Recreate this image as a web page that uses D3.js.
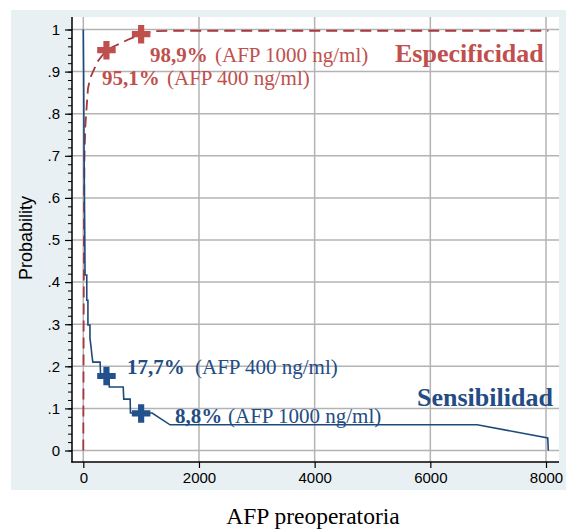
<!DOCTYPE html>
<html>
<head>
<meta charset="utf-8">
<script src="https://cdn.jsdelivr.net/npm/d3@7"></script>
<style>
  html, body { margin: 0; padding: 0; background: #ffffff; }
  svg { display: block; }
</style>
</head>
<body>
<svg id="chart" width="566" height="529"></svg>
<script>
// Tick values and labels
const xTicks = [0, 2000, 4000, 6000, 8000];
const yTicks = [0, 0.1, 0.2, 0.3, 0.4, 0.5, 0.6, 0.7, 0.8, 0.9, 1];
const yTickLabels = ["0", ".1", ".2", ".3", ".4", ".5", ".6", ".7", ".8", ".9", "1"];
const yMinorTicks = d3.range(0, 51).map(i => i / 50);

// Sensitivity curve (AFP cutoff, probability)
const sensAFP  = [0, 6, 10, 14, 20, 26, 30, 60, 60, 80, 80, 115, 115, 135, 150, 165, 290, 300, 445, 450, 690, 700, 810, 815, 1190, 1500, 6810, 8030, 8040];
const sensProb = [1, 0.9, 0.8, 0.7, 0.6, 0.5, 0.417, 0.417, 0.357, 0.357, 0.298, 0.298, 0.267, 0.245, 0.225, 0.21, 0.21, 0.177, 0.177, 0.151, 0.151, 0.122, 0.122, 0.089, 0.089, 0.061, 0.061, 0.030, 0];

// Specificity curve (AFP cutoff, probability)
const specAFP  = [0, 6, 12, 20, 35, 50, 81, 120, 168, 254, 400, 560, 760, 1000, 1200, 1500, 8040];
const specProb = [0, 0.3, 0.55, 0.7, 0.77, 0.80, 0.86, 0.885, 0.90, 0.925, 0.951, 0.962, 0.975, 0.989, 0.996, 0.997, 0.997];

// Highlighted cutoffs
const cutoffAFP = [400, 1000];
const sensAtCutoff = [0.177, 0.088];
const specAtCutoff = [0.951, 0.989];

const svg = d3.select("#chart");
const SERIF = "'Liberation Serif', 'Times New Roman', serif";
const SANS = "'Liberation Sans', Arial, Helvetica, sans-serif";
const RED_TEXT = "#c0504d";
const RED_LINE = "#a8373f";
const BLUE_TEXT = "#234c83";
const BLUE_LINE = "#1d4a7b";
const GRID = "#b3b3b3";

// Graph region and plot region
svg.append("rect").attr("x", 11).attr("y", 10).attr("width", 555).attr("height", 480).attr("fill", "#e9f0f3");
svg.append("rect").attr("x", 72).attr("y", 17).attr("width", 487).attr("height", 445).attr("fill", "#ffffff");

const x = d3.scaleLinear().domain([0, 8000]).range([83.3, 546]);
const y = d3.scaleLinear().domain([0, 1]).range([450.5, 29.5]);

// Grid
svg.append("g").selectAll("line").data(yTicks).join("line")
  .attr("x1", 72).attr("x2", 559)
  .attr("y1", d => y(d)).attr("y2", d => y(d))
  .attr("stroke", GRID).attr("stroke-width", 1.5);
svg.append("g").selectAll("line").data(xTicks).join("line")
  .attr("y1", 17).attr("y2", 462)
  .attr("x1", d => x(d)).attr("x2", d => x(d))
  .attr("stroke", GRID).attr("stroke-width", 1.5);

// Y axis
const yAxisMinor = d3.axisLeft(y).tickValues(yMinorTicks).tickSize(4).tickFormat("");
const yAxisMajor = d3.axisLeft(y).tickValues(yTicks).tickSize(7).tickPadding(5)
  .tickFormat((d, i) => yTickLabels[i]);
const gyMinor = svg.append("g").attr("transform", "translate(72,0)").call(yAxisMinor);
gyMinor.select(".domain").remove();
gyMinor.selectAll("line").attr("stroke", "#000").attr("stroke-width", 1);
const gy = svg.append("g").attr("transform", "translate(72,0)").call(yAxisMajor);
gy.select(".domain").remove();
gy.selectAll("line").attr("stroke", "#000").attr("stroke-width", 1.2);
gy.selectAll("text").attr("font-family", SANS).attr("font-size", 15).attr("fill", "#000");
svg.append("line").attr("x1", 72).attr("x2", 72).attr("y1", 17).attr("y2", 462.5)
  .attr("stroke", "#000").attr("stroke-width", 1.5);

// X axis
const xAxis = d3.axisBottom(x).tickValues(xTicks).tickSize(6).tickPadding(4).tickFormat(d3.format("d"));
const gx = svg.append("g").attr("transform", "translate(0,462)").call(xAxis);
gx.select(".domain").remove();
gx.selectAll("line").attr("stroke", "#000").attr("stroke-width", 1.2);
gx.selectAll("text").attr("font-family", SANS).attr("font-size", 15).attr("fill", "#000");
svg.append("line").attr("x1", 71.25).attr("x2", 559).attr("y1", 462).attr("y2", 462)
  .attr("stroke", "#000").attr("stroke-width", 1.5);

// Axis titles
svg.append("text").attr("transform", "translate(32,238) rotate(-90)")
  .attr("text-anchor", "middle").attr("font-family", SANS).attr("font-size", 18)
  .text("Probability");
svg.append("text").attr("x", 313).attr("y", 524).attr("text-anchor", "middle")
  .attr("font-family", SERIF).attr("font-size", 23.5).text("AFP preoperatoria");

// Curves
const line = d3.line().x(d => x(d[0])).y(d => y(d[1]));
svg.append("path").datum(specAFP.map((v, i) => [v, specProb[i]]))
  .attr("d", line).attr("fill", "none").attr("stroke", RED_LINE)
  .attr("stroke-width", 1.8).attr("stroke-dasharray", "11,6");
svg.append("path").datum(sensAFP.map((v, i) => [v, sensProb[i]]))
  .attr("d", line).attr("fill", "none").attr("stroke", BLUE_LINE)
  .attr("stroke-width", 1.6);

// Cutoff markers
const cross = d3.symbol().type(d3.symbolCross).size(190);
svg.append("g").selectAll("path").data(cutoffAFP).join("path")
  .attr("d", cross).attr("transform", (d, i) => `translate(${x(d)},${y(specAtCutoff[i])})`)
  .attr("fill", RED_TEXT);
svg.append("g").selectAll("path").data(cutoffAFP).join("path")
  .attr("d", cross).attr("transform", (d, i) => `translate(${x(d)},${y(sensAtCutoff[i])})`)
  .attr("fill", "#22518d");

// Annotations
function pct(v) { return (v * 100).toFixed(1).replace(".", ",") + "%"; }
function note(xb, xr, yb, value, cutoff, color) {
  const t = svg.append("text").attr("y", yb).attr("font-family", SERIF).attr("font-size", 21).attr("fill", color);
  t.append("tspan").attr("x", xb).attr("font-weight", "bold").text(pct(value));
  t.append("tspan").attr("x", xr).text(`(AFP ${cutoff} ng/ml)`);
}
note(150, 215, 62, specAtCutoff[1], cutoffAFP[1], RED_TEXT);
note(102, 167, 85, specAtCutoff[0], cutoffAFP[0], RED_TEXT);
note(127, 195, 374, sensAtCutoff[0], cutoffAFP[0], BLUE_TEXT);
note(175, 228, 423, sensAtCutoff[1], cutoffAFP[1], BLUE_TEXT);

svg.append("text").attr("x", 395).attr("y", 62).attr("font-family", SERIF).attr("font-size", 26)
  .attr("font-weight", "bold").attr("fill", RED_TEXT).text("Especificidad");
svg.append("text").attr("x", 417).attr("y", 406).attr("font-family", SERIF).attr("font-size", 26)
  .attr("font-weight", "bold").attr("fill", BLUE_TEXT).text("Sensibilidad");
</script>
</body>
</html>
